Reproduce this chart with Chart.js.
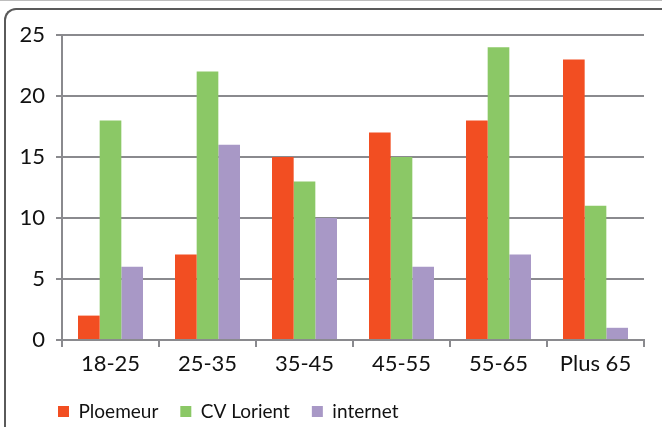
<!DOCTYPE html>
<html>
<head>
<meta charset="utf-8">
<script src="https://cdn.jsdelivr.net/npm/chart.js@4/dist/chart.umd.min.js"></script>
<style>
  body { margin: 0; background: #fff; }
  #wrap { position: relative; width: 662px; height: 427px; overflow: hidden; }
  #topline { position: absolute; left: 0; top: 0; width: 662px; height: 1px; background: #bdbdbd; }
  #frame { position: absolute; left: 4px; top: 8px; width: 700px; height: 500px; border-top: 2px solid #5a5a5a; border-left: 2px solid #5a5a5a; border-top-left-radius: 12px; }
  canvas { position: absolute; left: 0; top: 0; }
</style>
</head>
<body>
<div id="wrap">
  <div id="topline"></div>
  <div id="frame"></div>
  <canvas id="c" width="662" height="427"></canvas>
</div>
<script>
const categories = ["18-25", "25-35", "35-45", "45-55", "55-65", "Plus 65"];
const ploemeur = [2, 7, 15, 17, 18, 23];
const cvLorient = [18, 22, 13, 15, 24, 11];
const internet = [6, 16, 10, 6, 7, 1];
const yTicks = [0, 5, 10, 15, 20, 25];

const gridColor = "#8a8a8e";
const fontFamily = "Lato, 'Open Sans', sans-serif";
const legendPad = 22;

// legend sits under the plot, left aligned with the y axis labels
const placeLegend = {
  id: "placeLegend",
  afterLayout(chart) {
    if (!chart.legend) return;
    chart.legend.left = 58 - legendPad;
    chart.legend.top = 402 - legendPad;
  }
};

new Chart(document.getElementById("c"), {
  type: "bar",
  data: {
    labels: categories,
    datasets: [
      { label: "Ploemeur", data: ploemeur, backgroundColor: "#f24e22" },
      { label: "CV Lorient", data: cvLorient, backgroundColor: "#8bc866" },
      { label: "internet", data: internet, backgroundColor: "#a898c6" }
    ]
  },
  plugins: [placeLegend],
  options: {
    responsive: false,
    animation: false,
    layout: { padding: { left: 0, right: 18, top: 35, bottom: -19 } },
    datasets: { bar: { categoryPercentage: 0.67, barPercentage: 1 } },
    plugins: {
      tooltip: { enabled: false },
      legend: {
        position: "bottom",
        align: "start",
        labels: { color: "#111", font: { family: fontFamily, size: 19 }, boxWidth: 11, boxHeight: 11, padding: legendPad }
      }
    },
    scales: {
      x: {
        grid: { display: true, drawOnChartArea: false, drawTicks: true, tickLength: 7, color: gridColor, lineWidth: 2, offset: true },
        border: { color: gridColor, width: 2 },
        ticks: { color: "#111", font: { family: fontFamily, size: 22 }, padding: 4 },
        afterFit: (scale) => { scale.height = 55; }
      },
      y: {
        min: 0,
        max: 25,
        afterBuildTicks: (scale) => { scale.ticks = yTicks.map((v) => ({ value: v })); },
        grid: { color: gridColor, lineWidth: 2, tickLength: 6 },
        border: { color: gridColor, width: 2 },
        ticks: { color: "#111", font: { family: fontFamily, size: 22 }, padding: 11 },
        afterFit: (scale) => { scale.width = 62; }
      }
    }
  }
});
</script>
</body>
</html>
